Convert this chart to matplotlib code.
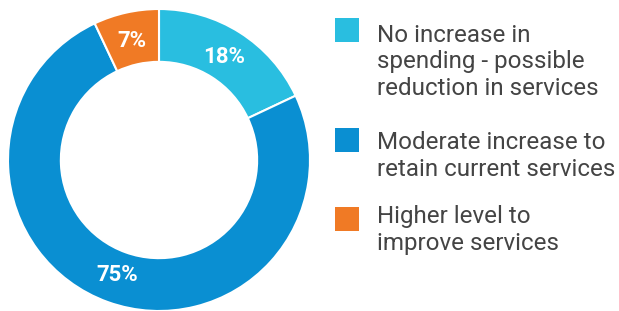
import matplotlib
matplotlib.use("Agg")
import matplotlib.pyplot as plt
from matplotlib.patches import Rectangle

categories = ["No increase in\nspending - possible\nreduction in services",
              "Moderate increase to\nretain current services",
              "Higher level to\nimprove services"]
values = [18, 75, 7]
colors = ["#29BEE0", "#0A8FD2", "#F07A25"]

W, H = 619, 311
fig = plt.figure(figsize=(W / 100, H / 100), dpi=100)
plt.rcParams['font.family'] = ['Roboto', 'DejaVu Sans']

ax = fig.add_axes([8 / W, 0 / H, 302 / W, 302 / H])
wedges, texts, autotexts = ax.pie(
    values, colors=colors, startangle=90, counterclock=False,
    radius=1.0, pctdistance=0.81,
    autopct=lambda p: f"{p:.0f}%",
    wedgeprops=dict(width=0.35, edgecolor="white", linewidth=1.5),
    textprops=dict(color="white", fontsize=16, fontweight="bold"))
ax.set_xlim(-1, 1)
ax.set_ylim(-1, 1)
ax.set_aspect("equal")
ax.axis("off")

# legend (manual layout); baselines of the last line of each entry
box_tops = [18, 128, 207]
baselines = [95, 176, 250]
for i, (lab, col) in enumerate(zip(categories, colors)):
    y0 = box_tops[i]
    fig.patches.append(Rectangle((335 / W, 1 - (y0 + 24) / H), 24 / W, 24 / H,
                                 transform=fig.transFigure, facecolor=col,
                                 edgecolor="none"))
    fig.text(377 / W, 1 - baselines[i] / H, lab, ha="left", va="baseline",
             fontsize=17.4, color="#444444", fontweight="normal",
             linespacing=1.2)

fig.savefig("out.png", dpi=100, facecolor="white")
